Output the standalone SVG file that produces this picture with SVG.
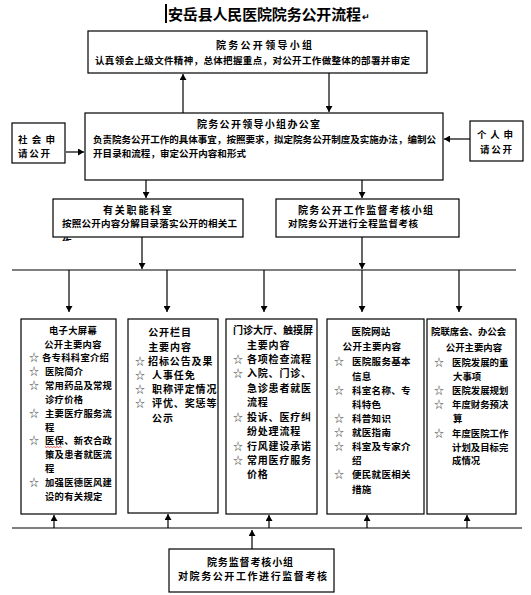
<svg xmlns="http://www.w3.org/2000/svg" width="531" height="595" viewBox="0 0 531 595">
<defs>
<marker id="ah" markerWidth="6" markerHeight="7" refX="6" refY="3.5" orient="auto" markerUnits="userSpaceOnUse"><path d="M0,0 L6,3.5 L0,7 z" fill="#000"/></marker>
<clipPath id="c3"><rect x="53" y="199" width="190" height="42"/></clipPath>
</defs>
<style>
text{font-family:"Noto Sans CJK SC","Noto Sans CJK JP",sans-serif;font-weight:700;fill:#000;}
.box{fill:#fff;stroke:#000;stroke-width:1.2;}
.t{font-size:10px;}
.s{font-size:9.5px;}
.st{font-size:10px;font-weight:400;fill:#444;}
.c{text-anchor:middle;}
.ln{stroke:#000;stroke-width:1.2;fill:none;}
.ar{stroke:#000;stroke-width:1.2;fill:none;marker-end:url(#ah);}
.A text{font-size:9.3px;letter-spacing:0.3px;}
.B text{font-size:10px;letter-spacing:0.9px;}
.C text{font-size:10px;letter-spacing:0.8px;}
.D text{font-size:9.5px;letter-spacing:0.3px;}
.E text{font-size:9.4px;letter-spacing:0px;}
.A text.st,.B text.st,.C text.st,.D text.st,.E text.st{font-size:10px;font-weight:400;letter-spacing:0;}
</style>
<rect width="531" height="595" fill="#fff"/>

<g id="title">
<line x1="166" y1="4" x2="166" y2="23" stroke="#000" stroke-width="2"/>
<text x="168" y="20" font-size="15" textLength="193" lengthAdjust="spacing">安岳县人民医院院务公开流程</text>
<text x="362" y="20" font-size="9" font-weight="400" fill="#666">↵</text>
</g>

<g id="leader">
<rect class="box" x="88" y="31" width="339" height="42"/>
<text class="t" x="216" y="49" textLength="96" lengthAdjust="spacing">院务公开领导小组</text>
<text class="s" x="95" y="64" textLength="315" lengthAdjust="spacing">认真领会上级文件精神，总体把握重点，对公开工作做整体的部署并审定</text>
</g>

<g id="office">
<rect class="box" x="85" y="113" width="358" height="67"/>
<text class="t" x="197" y="128" textLength="123" lengthAdjust="spacing">院务公开领导小组办公室</text>
<text class="s" x="93" y="143" textLength="343" lengthAdjust="spacing">负责院务公开工作的具体事宜，按照要求，拟定院务公开制度及实施办法，编制公</text>
<text class="s" x="93" y="157" textLength="153" lengthAdjust="spacing">开目录和流程，审定公开内容和形式</text>
</g>

<g id="social">
<rect class="box" x="12" y="123" width="53" height="40"/>
<text class="s" x="18" y="143" textLength="37" lengthAdjust="spacing">社会申</text>
<text class="s" x="18" y="157" textLength="32" lengthAdjust="spacing">请公开</text>
</g>

<g id="personal">
<rect class="box" x="470" y="121" width="53" height="40"/>
<text class="s" x="477" y="138" textLength="36" lengthAdjust="spacing">个人申</text>
<text class="s" x="480" y="153" textLength="32" lengthAdjust="spacing">请公开</text>
</g>

<g id="depts">
<rect class="box" x="53" y="199" width="190" height="38"/>
<text class="t" x="103" y="214" textLength="69" lengthAdjust="spacing">有关职能科室</text>
<text class="s" x="62" y="227" textLength="175" lengthAdjust="spacing">按照公开内容分解目录落实公开的相关工</text>
<text class="s" x="62" y="245" clip-path="url(#c3)">作</text>
</g>

<g id="supervise">
<rect class="box" x="276" y="199" width="183" height="38"/>
<text class="t" x="298" y="214" textLength="135" lengthAdjust="spacing">院务公开工作监督考核小组</text>
<text class="s" x="288" y="227" textLength="130" lengthAdjust="spacing">对院务公开进行全程监督考核</text>
</g>

<g id="screen" class="A">
<rect class="box" x="21" y="319" width="95" height="195"/>
<text x="73" y="334" class="c">电子大屏幕</text>
<text x="73" y="348" class="c">公开主要内容</text>
<text x="29" y="361" class="st">☆</text><text x="42" y="361">各专科科室介绍</text>
<text x="29" y="375" class="st">☆</text><text x="45" y="375">医院简介</text>
<text x="29" y="389" class="st">☆</text><text x="45" y="389">常用药品及常规</text>
<text x="45" y="403">诊疗价格</text>
<text x="29" y="417" class="st">☆</text><text x="45" y="417">主要医疗服务流</text>
<text x="45" y="431">程</text>
<text x="29" y="444" class="st">☆</text><text x="45" y="444">医保、新农合政</text>
<path d="M45,446.5 l1.5,1 l1.5,-1 l1.5,1 l1.5,-1 l1.5,1 l1.5,-1 l1.5,1 l1.5,-1 l1.5,1 l1.5,-1 l1.5,1" stroke="#d00" stroke-width="0.7" fill="none"/>
<text x="45" y="458">策及患者就医流</text>
<text x="45" y="472">程</text>
<text x="29" y="486" class="st">☆</text><text x="45" y="486">加强医德医风建</text>
<text x="45" y="500">设的有关规定</text>
</g>

<g id="board" class="B">
<rect class="box" x="128" y="319" width="90" height="194"/>
<text x="170" y="336" class="c">公开栏目</text>
<text x="170" y="351" class="c">主要内容</text>
<text x="135" y="365" class="st">☆</text><text x="148" y="365">招标公告及果</text>
<text x="135" y="379" class="st">☆</text><text x="152" y="379">人事任免</text>
<text x="135" y="393" class="st">☆</text><text x="152" y="393">职称评定情况</text>
<text x="135" y="407" class="st">☆</text><text x="152" y="407">评优、奖惩等</text>
<text x="152" y="422">公示</text>
</g>

<g id="hall" class="C">
<rect class="box" x="226" y="319" width="91" height="195"/>
<text x="233" y="334" style="letter-spacing:0">门诊大厅、触摸屏</text>
<text x="247" y="349">主要内容</text>
<text x="233" y="363" class="st">☆</text><text x="247" y="363">各项检查流程</text>
<text x="233" y="377" class="st">☆</text><text x="247" y="377">入院、门诊、</text>
<text x="247" y="392">急诊患者就医</text>
<text x="247" y="406">流程</text>
<text x="233" y="421" class="st">☆</text><text x="247" y="421">投诉、医疗纠</text>
<text x="247" y="435">纷处理流程</text>
<text x="233" y="450" class="st">☆</text><text x="247" y="450">行风建设承诺</text>
<text x="233" y="464" class="st">☆</text><text x="247" y="464">常用医疗服务</text>
<text x="247" y="478">价格</text>
</g>

<g id="website" class="D">
<rect class="box" x="327" y="319" width="97" height="195"/>
<text x="371" y="335" class="c">医院网站</text>
<text x="372" y="350" class="c">公开主要内容</text>
<text x="334" y="365" class="st">☆</text><text x="352" y="365">医院服务基本</text>
<text x="352" y="380">信息</text>
<text x="334" y="394" class="st">☆</text><text x="352" y="394">科室名称、专</text>
<text x="352" y="408">科特色</text>
<text x="334" y="422" class="st">☆</text><text x="352" y="422">科普知识</text>
<text x="334" y="436" class="st">☆</text><text x="352" y="436">就医指南</text>
<text x="334" y="450" class="st">☆</text><text x="352" y="450">科室及专家介</text>
<text x="352" y="464">绍</text>
<text x="334" y="478" class="st">☆</text><text x="352" y="478">便民就医相关</text>
<text x="352" y="493">措施</text>
</g>

<g id="meeting" class="E">
<rect class="box" x="427" y="319" width="89" height="195"/>
<text x="431" y="335">院联席会、办公会</text>
<text x="474" y="351" class="c">公开主要内容</text>
<text x="434" y="366" class="st">☆</text><text x="452" y="366">医院发展的重</text>
<text x="453" y="380">大事项</text>
<text x="434" y="394" class="st">☆</text><text x="452" y="394">医院发展规划</text>
<text x="434" y="408" class="st">☆</text><text x="452" y="408">年度财务预决</text>
<text x="453" y="422">算</text>
<text x="434" y="437" class="st">☆</text><text x="452" y="437">年度医院工作</text>
<text x="452" y="451">计划及目标完</text>
<text x="452" y="464">成情况</text>
</g>

<g id="monitor">
<rect class="box" x="169" y="549" width="165" height="43"/>
<text class="t" x="207" y="566" textLength="86" lengthAdjust="spacing">院务监督考核小组</text>
<text class="t" x="178" y="580" textLength="149" lengthAdjust="spacing">对院务公开工作进行监督考核</text>
</g>

<g id="connectors">
<path class="ar" d="M183,113 L183,74"/>
<path class="ar" d="M329,73 L329,112"/>
<path class="ar" d="M66,152 L84,152"/>
<path class="ar" d="M470,139 L444,139"/>
<path class="ar" d="M146,180 L146,198"/>
<path class="ar" d="M362,180 L362,198"/>
<path class="ar" d="M142,237 L142,269"/>
<path class="ar" d="M362,237 L362,269"/>
<path class="ln" d="M12,270 L516,270"/>
<path class="ar" d="M69,270 L69,312"/>
<path class="ar" d="M167,270 L167,312"/>
<path class="ar" d="M264,270 L264,312"/>
<path class="ar" d="M362,270 L362,312"/>
<path class="ar" d="M459,270 L459,312"/>
<path class="ln" d="M12,528 L522,528"/>
<path class="ar" d="M54,528 L54,515"/>
<path class="ar" d="M168,528 L168,514"/>
<path class="ar" d="M269,528 L269,515"/>
<path class="ar" d="M367,528 L367,515"/>
<path class="ar" d="M467,528 L467,515"/>
<path class="ar" d="M252,549 L252,530"/>
</g>
</svg>
